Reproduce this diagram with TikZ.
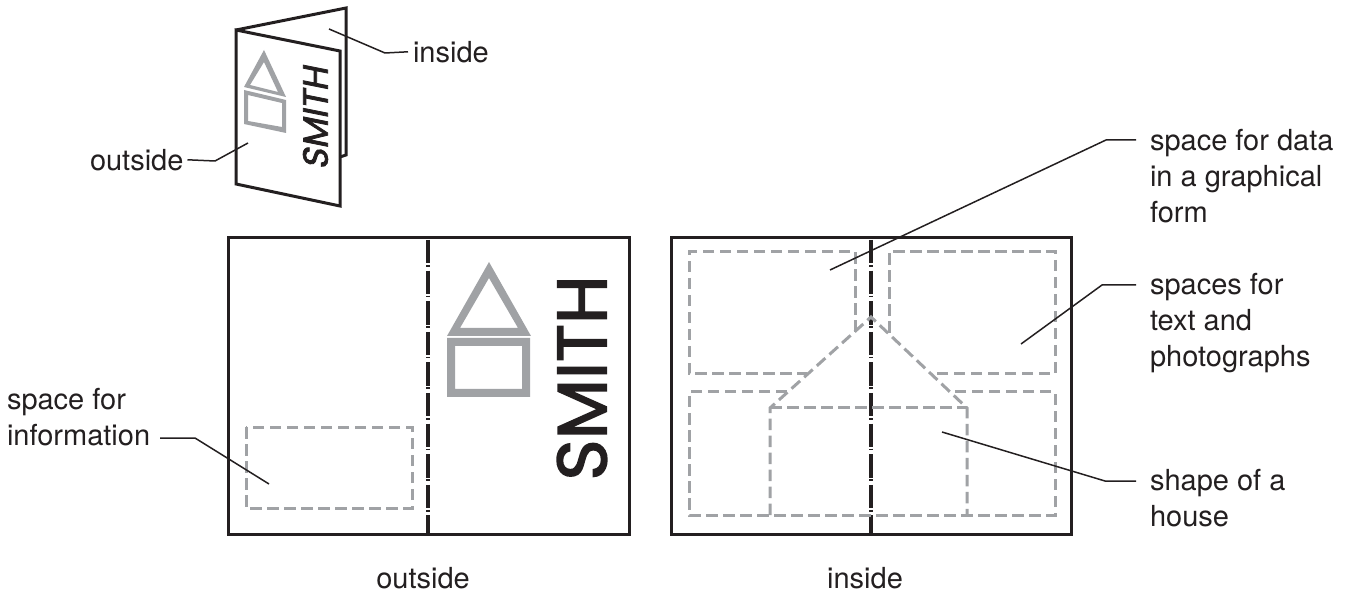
\documentclass[tikz,border=0pt]{standalone}
\usepackage{fontspec}
\setmainfont{TeX Gyre Heros}
\newfontfamily\smithfont[FakeBold=2.2]{Poppins}
\definecolor{ink}{HTML}{231F20}
\definecolor{ash}{HTML}{A0A2A5}
\begin{document}
\begin{tikzpicture}[x=1pt,y=-1pt,
  every node/.style={inner sep=0pt,outer sep=0pt,text=ink},
  sheet/.style={draw=ink,line width=3pt,line join=miter},
  fold/.style={draw=ink,line width=3.3pt,dash pattern=on 23.5pt off 1.6pt on 1.6pt off 3.9pt},
  zone/.style={draw=ash,line width=3pt,dash pattern=on 11.5pt off 5.5pt},
  leader/.style={draw=ink,line width=1.5pt},
  lab/.style={font=\fontsize{29}{36}\selectfont,align=left,anchor=north west},
  captionlab/.style={font=\fontsize{29}{36}\selectfont,anchor=center},
  greyshape/.style={fill=ash,even odd rule,draw=none}]
\useasboundingbox (0,0) rectangle (1352,593);
% small folded leaflet
\draw[sheet] (236,30) -- (346,8) -- (346,155) -- (340,157);
\draw[sheet,fill=white] (236,30) -- (340,51) -- (340,206) -- (236,184) -- cycle;
\fill[greyshape] (264,50) -- (286,97) -- (244,87) -- cycle (264,62) -- (278,92) -- (250,85) -- cycle;
\fill[greyshape] (244,90) -- (286,100) -- (286,133) -- (244,124) -- cycle (248,95) -- (282,103) -- (282,127) -- (248,121) -- cycle;
\begin{scope}[shift={(315.5,116)},cm={0,1,-1,0.2,(0,0)}]
  \node[transform shape,font=\smithfont\fontsize{35}{35}\selectfont] (smallname) at (0,0) {SMITH};
\end{scope}
% outside sheet
\node[sheet,minimum width=401pt,minimum height=296pt,anchor=north west] (outer) at (228,238) {};
\coordinate (ofoldT) at (428,240);
\coordinate (ofoldB) at (428,534);
\draw[fold] (ofoldT) -- (ofoldB);
\draw[zone] (246,427) rectangle (412,508);
\fill[greyshape] (489,262) -- (531,336) -- (447,336) -- cycle (489,278) -- (518,328) -- (460,328) -- cycle;
\fill[greyshape] (447,338) rectangle (530,397) (455,346) rectangle (522,389);
\node[rotate=90,font=\smithfont\fontsize{70}{70}\selectfont] (bigname) at (582,378) {SMITH};
% inside sheet
\node[sheet,minimum width=400pt,minimum height=296pt,anchor=north west] (inner) at (671,238) {};
\coordinate (ifoldT) at (871,240);
\coordinate (ifoldB) at (871,534);
\draw[fold] (ifoldT) -- (ifoldB);
\draw[zone] (855,332) -- (855,252) -- (689,252) -- (689,374) -- (807,374);
\draw[zone] (889,333) -- (889,252) -- (1055,252) -- (1055,374) -- (932,374);
\draw[zone] (787,392) -- (689,392) -- (689,515) -- (1055,515) -- (1055,392) -- (955,392);
\draw[zone] (770,515) -- (770,408) -- (871,317) -- (967,408) -- (967,515);
\draw[zone] (770,408) -- (967,408);
% labels
\node[lab] (linside) at (413,41) {inside};
\node[lab] (loutside) at (90,149) {outside};
\node[lab] (lspaceinfo) at (7,388) {space for\\information};
\node[lab] (ldata) at (1150,129) {space for data\\in a graphical\\form};
\node[lab] (ltext) at (1150,273) {spaces for\\text and\\photographs};
\node[lab] (lhouse) at (1150,469) {shape of a\\house};
\node[captionlab] (coutside) at (423,578) {outside};
\node[captionlab] (cinside) at (865,578) {inside};
% leaders
\coordinate (a1) at (329,29);   \coordinate (b1) at (385,53);
\coordinate (a2) at (248,143);  \coordinate (b2) at (215,161);
\coordinate (a3) at (269,484);  \coordinate (b3) at (195,438);  \coordinate (c3) at (160,438);
\coordinate (a4) at (830,270);  \coordinate (b4) at (1106,140); \coordinate (c4) at (1136,140);
\coordinate (a5) at (1021,344); \coordinate (b5) at (1102,285); \coordinate (c5) at (1136,285);
\coordinate (a6) at (942,432);  \coordinate (b6) at (1105,481); \coordinate (c6) at (1136,481);
\draw[leader] (a1) -- (b1) -- ([xshift=-5pt]linside.west);
\draw[leader] (a2) -- (b2) -- ([xshift=4pt]loutside.east);
\draw[leader] (a3) -- (b3) -- (c3);
\draw[leader] (a4) -- (b4) -- (c4);
\draw[leader] (a5) -- (b5) -- (c5);
\draw[leader] (a6) -- (b6) -- (c6);
\end{tikzpicture}
\end{document}
